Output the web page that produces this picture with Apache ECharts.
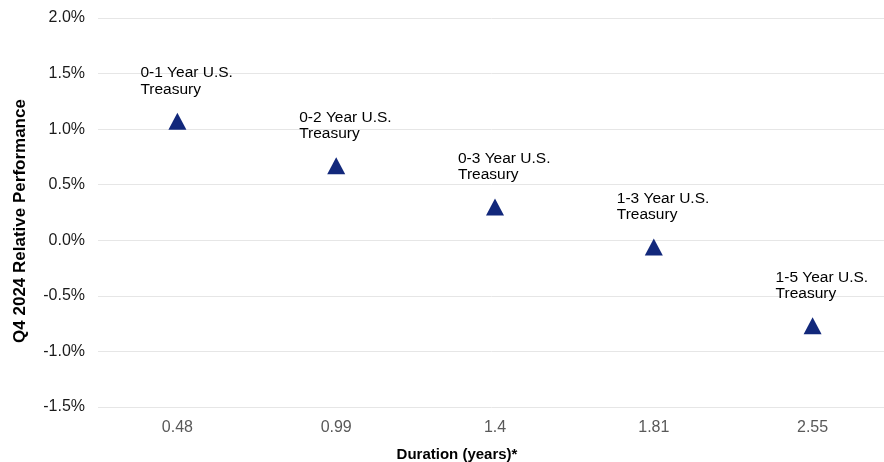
<!DOCTYPE html>
<html>
<head>
<meta charset="utf-8">
<script src="https://cdn.jsdelivr.net/npm/echarts@6/dist/echarts.min.js"></script>
<style>
html,body{margin:0;padding:0;background:#fff;}
#chart{width:884px;height:462px;}
</style>
</head>
<body>
<div id="chart"></div>
<script>
var durations = ['0.48', '0.99', '1.4', '1.81', '2.55'];
var performance = [1.07, 0.67, 0.30, -0.06, -0.77];
var fundNames = ['0-1 Year U.S.\nTreasury', '0-2 Year U.S.\nTreasury', '0-3 Year U.S.\nTreasury', '1-3 Year U.S.\nTreasury', '1-5 Year U.S.\nTreasury'];
var yTicks = { min: -1.5, max: 2.0, interval: 0.5 };
var xAxisTitle = 'Duration (years)*';
var yAxisTitle = 'Q4 2024 Relative Performance';

var font = "'Liberation Sans', Arial, sans-serif";
var chart = echarts.init(document.getElementById('chart'));
chart.setOption({
  animation: false,
  backgroundColor: '#ffffff',
  textStyle: { fontFamily: font },
  grid: { left: 98, top: 18, width: 794, height: 389, containLabel: false, outerBoundsMode: 'none' },
  xAxis: {
    type: 'category',
    data: durations,
    boundaryGap: true,
    axisLine: { show: false },
    axisTick: { show: false },
    axisLabel: { color: '#595959', fontSize: 16, margin: 13, fontFamily: font },
    splitLine: { show: false }
  },
  yAxis: {
    type: 'value',
    min: yTicks.min,
    max: yTicks.max,
    interval: yTicks.interval,
    axisLine: { show: false },
    axisTick: { show: false },
    axisLabel: {
      color: '#1a1a1a', fontSize: 16, margin: 13, fontFamily: font,
      formatter: function (v) { return v.toFixed(1) + '%'; }
    },
    splitLine: { lineStyle: { color: '#e6e6e6', width: 1 } }
  },
  graphic: [
    {
      type: 'text', x: 20, y: 221, rotation: Math.PI / 2,
      style: { text: yAxisTitle, align: 'center', verticalAlign: 'middle', font: "bold 17px " + font, fill: '#000' }
    },
    {
      type: 'text', x: 457, y: 455,
      style: { text: xAxisTitle, align: 'center', verticalAlign: 'middle', font: "bold 15px " + font, fill: '#000' }
    }
  ],
  series: [{
    type: 'scatter',
    data: performance,
    symbol: 'triangle',
    symbolSize: [18, 17],
    itemStyle: { color: '#12287B', opacity: 1 },
    label: {
      show: true,
      position: [-28, -48],
      align: 'left',
      verticalAlign: 'top',
      color: '#000',
      fontSize: 15.5,
      lineHeight: 16.5,
      fontFamily: font,
      formatter: function (p) { return fundNames[p.dataIndex]; }
    }
  }]
});
</script>
</body>
</html>
